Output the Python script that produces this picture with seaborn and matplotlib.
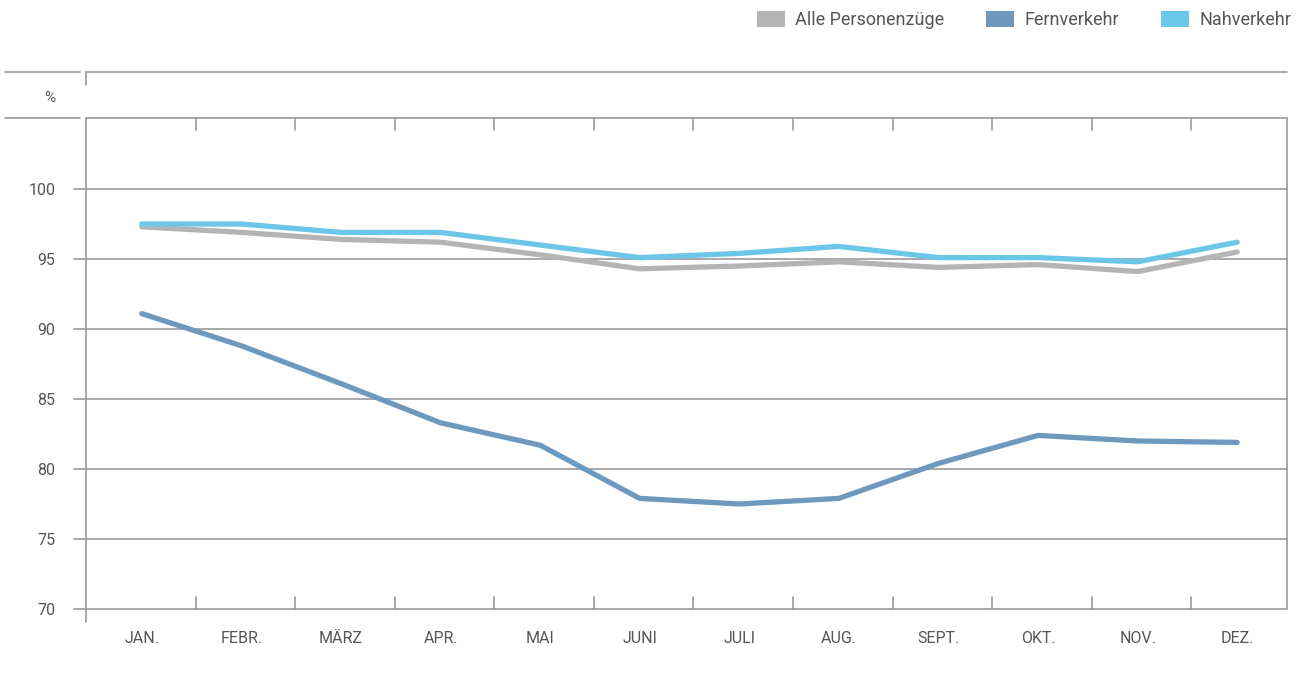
import matplotlib
matplotlib.use("Agg")
import matplotlib.pyplot as plt
from matplotlib.lines import Line2D
from matplotlib.patches import Patch
import seaborn as sns
import pandas as pd

# Monthly punctuality of passenger trains, in percent
months = ["JAN.", "FEBR.", "MÄRZ", "APR.", "MAI", "JUNI",
          "JULI", "AUG.", "SEPT.", "OKT.", "NOV.", "DEZ."]
alle = [97.3, 96.9, 96.4, 96.2, 95.3, 94.3, 94.5, 94.8, 94.4, 94.6, 94.1, 95.5]
fern = [91.1, 88.8, 86.1, 83.3, 81.7, 77.9, 77.5, 77.9, 80.4, 82.4, 82.0, 81.9]
nah = [97.5, 97.5, 96.9, 96.9, 96.0, 95.1, 95.4, 95.9, 95.1, 95.1, 94.8, 96.2]
series = ["Alle Personenzüge", "Fernverkehr", "Nahverkehr"]
colors = ["#b4b4b5", "#6e99bf", "#6cc6e7"]
yticks = [70, 75, 80, 85, 90, 95, 100]

df = pd.DataFrame({
    "Monat": list(range(12)) * 3,
    "Wert": alle + fern + nah,
    "Reihe": [series[0]] * 12 + [series[1]] * 12 + [series[2]] * 12,
})

sns.set_theme(style="white")
plt.rcParams["font.family"] = ["Roboto", "DejaVu Sans"]

W, H = 1301, 686
fig = plt.figure(figsize=(W / 100, H / 100), dpi=100)
ax = fig.add_axes([86 / W, 1 - 609 / H, (1287 - 86) / W, (609 - 118) / H])

line_col = "#9a9a9a"
text_col = "#555555"

# horizontal grid, reaching slightly left of the axis
for y in yticks[1:]:
    ax.axhline(y, xmin=-12 / 1201, xmax=1, color=line_col, lw=1.2,
               clip_on=False, zorder=0)

sns.lineplot(data=df, x="Monat", y="Wert", hue="Reihe", hue_order=series,
             palette=colors, lw=3.8, legend=False, ax=ax, zorder=3)

ax.set_xlim(-0.56, 11.5)
ax.set_ylim(70, 70 + (609 - 118) / 14)
ax.set_xticks(range(12))
ax.set_xticklabels(months)
ax.set_yticks(yticks)
ax.set_yticklabels([str(v) for v in yticks])
ax.tick_params(axis="both", length=0, labelsize=11.5, colors=text_col)
ax.tick_params(axis="x", pad=16)
ax.tick_params(axis="y", pad=22)
ax.set_xlabel("")
ax.set_ylabel("")

for s in ["left", "right", "bottom", "top"]:
    ax.spines[s].set_visible(False)

trans = ax.get_xaxis_transform()
# bottom axis line extending to the left
ax.plot([-0.68, 11.5], [0, 0], transform=trans, color=line_col, lw=1.2, clip_on=False)
# top frame line
ax.plot([-0.56, 11.5], [1, 1], transform=trans, color=line_col, lw=1.2, clip_on=False)
# left and right verticals
ax.plot([-0.56, -0.56], [-13 / 491, 1], transform=trans, color=line_col, lw=1.2, clip_on=False)
ax.plot([11.5, 11.5], [0, 1], transform=trans, color=line_col, lw=1.2, clip_on=False)
# month separator ticks on top and bottom
for b in [i + 0.54 for i in range(11)]:
    ax.plot([b, b], [0, 12 / 491], transform=trans, color=line_col, lw=1.2, clip_on=False)
    ax.plot([b, b], [1, 1 - 12 / 491], transform=trans, color=line_col, lw=1.2, clip_on=False)

# header band with unit label
fig.add_artist(Line2D([5 / W, 80 / W], [1 - 72 / H] * 2, color=line_col, lw=1.2))
fig.add_artist(Line2D([86 / W, 1287 / W], [1 - 72 / H] * 2, color=line_col, lw=1.2))
fig.add_artist(Line2D([5 / W, 80 / W], [1 - 118 / H] * 2, color=line_col, lw=1.2))
fig.add_artist(Line2D([86 / W, 86 / W], [1 - 72 / H, 1 - 85 / H], color=line_col, lw=1.2))
fig.text(50 / W, 1 - 98 / H, "%", ha="center", va="center", fontsize=11, color=text_col)

handles = [Patch(facecolor=c, edgecolor="none", label=s) for s, c in zip(series, colors)]
fig.legend(handles=handles, loc="upper right", bbox_to_anchor=(1302 / W, 1.0),
           borderaxespad=0, borderpad=0.6,
           ncol=3, frameon=False, fontsize=13, handlelength=1.55, handleheight=1.0,
           handletextpad=0.55, columnspacing=2.35, labelcolor=text_col)

fig.savefig("out.png", dpi=100, facecolor="white")
